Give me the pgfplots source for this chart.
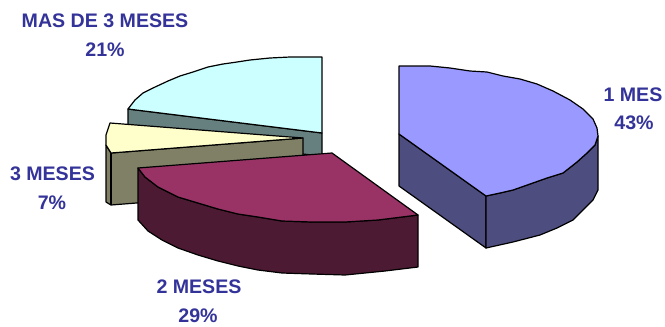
\documentclass[border=0pt]{standalone}
\usepackage{pgfplots}
\pgfplotsset{compat=1.18}
\usepackage{fontspec}
\setmainfont{Liberation Sans}
\definecolor{labelblue}{HTML}{333399}
\definecolor{mesA}{HTML}{9999FF}\definecolor{mesAs}{HTML}{4D4D80}
\definecolor{mesB}{HTML}{993366}\definecolor{mesBs}{HTML}{4D1A33}
\definecolor{mesC}{HTML}{FFFFCC}\definecolor{mesCs}{HTML}{808066}
\definecolor{mesD}{HTML}{CCFFFF}\definecolor{mesDs}{HTML}{668080}
\tikzset{lbl/.style={font=\fontsize{19.6}{24}\selectfont\bfseries, text=labelblue, inner sep=0pt, anchor=center}}
\begin{document}
\begin{tikzpicture}
\path[use as bounding box] (0,0) rectangle (665pt,327pt);
\begin{axis}[
  at={(0,0)}, anchor=south west,
  hide axis, scale only axis, width=665pt, height=327pt,
  xmin=0, xmax=665, ymin=0, ymax=327, y dir=reverse, clip=false,
  every axis plot/.append style={no markers, draw=black, line width=1.2pt, line join=round},
]
% MAS DE 3 MESES wedge
\addplot[fill=mesDs] coordinates {(128,109)(322,133)(322,156)(128,136)} --cycle;
\addplot[fill=mesD] coordinates {(322,57)(322,133)(128,109)(135,100)(143,93)(153,88)(168,81)(180,76)(193,72)(208,67)(223,64)(237,62)(250,60)(270,58)(290,57)} --cycle;
% 3 MESES wedge
\addplot[fill=mesCs] coordinates {(106,145)(111,153)(303,138)(303,190)(111,205)(106,202)} --cycle;
\addplot[draw=black] coordinates {(111,153)(111,205)};
\addplot[fill=mesC] coordinates {(110,123)(303,138)(111,153)(106,145)(106,135)} --cycle;
% 2 MESES wedge
\addplot[fill=mesBs] coordinates {(138,168)(145,177)(158,187)(178,197)(198,203)(218,209)(238,214)(258,217)(282,221)(312,222)(345,222)(378,220)(402,217)(418,215)(418,267)(385,271)(345,275)(312,274)(282,273)(258,270)(238,266)(218,261)(198,255)(178,248)(162,240)(148,231)(138,220)} --cycle;
\addplot[fill=mesB] coordinates {(138,168)(332,153)(418,215)(402,217)(378,220)(345,222)(312,222)(282,221)(258,217)(238,214)(218,209)(198,203)(178,197)(158,187)(145,177)} --cycle;
% 1 MES wedge
\addplot[fill=mesAs] coordinates {(399,134)(486,196)(486,248)(399,186)} --cycle;
\addplot[fill=mesAs] coordinates {(486,196)(500,193)(513,190)(530,184)(547,178)(563,173)(577,162)(587,153)(595,145)(598,136)(598,190)(593,200)(583,210)(573,220)(557,228)(540,235)(513,242)(486,248)} --cycle;
\addplot[fill=mesA] coordinates {(399,66)(430,66)(450,68)(470,71)(487,72)(503,76)(520,79)(537,84)(553,91)(570,100)(583,109)(593,119)(597,128)(598,136)(595,145)(587,153)(577,162)(563,173)(547,178)(530,184)(513,190)(500,193)(486,196)(399,134)} --cycle;
% Category labels
\node[lbl] at (axis cs:105,21) {MAS DE 3 MESES};
\node[lbl] at (axis cs:105,50) {21\%};
\node[lbl] at (axis cs:633,95) {1 MES};
\node[lbl] at (axis cs:634,123) {43\%};
\node[lbl] at (axis cs:52.5,174) {3 MESES};
\node[lbl] at (axis cs:52,203) {7\%};
\node[lbl] at (axis cs:199,287) {2 MESES};
\node[lbl] at (axis cs:198,316) {29\%};
\end{axis}
\end{tikzpicture}
\end{document}
